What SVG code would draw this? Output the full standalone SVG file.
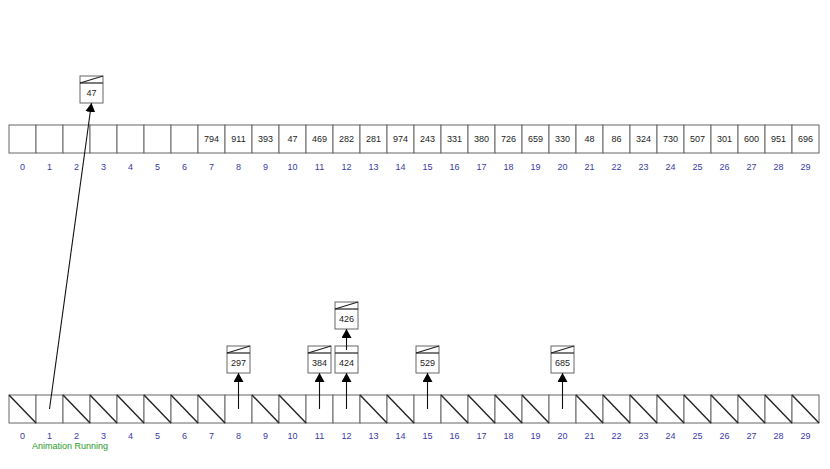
<svg xmlns="http://www.w3.org/2000/svg" width="830" height="469" viewBox="0 0 830 469">
<style>
.cell{fill:#fff;stroke:#666;stroke-width:1}
.diag{stroke:#222;stroke-width:1.4}
.val{font-family:"Liberation Sans",Arial,sans-serif;font-size:9px;fill:#222;text-anchor:middle;dominant-baseline:central}
.idx{font-family:"Liberation Sans",Arial,sans-serif;font-size:9px;fill:#3a3aa8;text-anchor:middle;dominant-baseline:central}
.nbox{fill:#fff;stroke:#666;stroke-width:1}
.nhd{stroke:#222;stroke-width:1.2;fill:none}
.conn{stroke:#111;stroke-width:1.1;fill:none}
.status{font-family:"Liberation Sans",Arial,sans-serif;font-size:9px;fill:#2a9a2a;text-anchor:middle;dominant-baseline:central}
</style>
<defs>
<marker id="ah" markerWidth="9" markerHeight="10" refX="9" refY="5" orient="auto" markerUnits="userSpaceOnUse" viewBox="0 0 9 10">
<path d="M0,0 L9,5 L0,10 z" fill="#000"/>
</marker>
<g id="nodeShape">
<rect class="nbox" x="0" y="0" width="23" height="27"/>
<line class="nhd" x1="0" y1="7" x2="23" y2="7"/>
<line class="nhd" x1="0" y1="7" x2="23" y2="0"/>
</g>
<g id="nodeShapeLinked">
<rect class="nbox" x="0" y="0" width="23" height="27"/>
<line class="nhd" x1="0" y1="7" x2="23" y2="7"/>
</g>
</defs>
<rect width="830" height="469" fill="#fff"/>

<g id="topArray">
<rect class="cell" x="9" y="125" width="27" height="28"/>
<rect class="cell" x="36" y="125" width="27" height="28"/>
<rect class="cell" x="63" y="125" width="27" height="28"/>
<rect class="cell" x="90" y="125" width="27" height="28"/>
<rect class="cell" x="117" y="125" width="27" height="28"/>
<rect class="cell" x="144" y="125" width="27" height="28"/>
<rect class="cell" x="171" y="125" width="27" height="28"/>
<rect class="cell" x="198" y="125" width="27" height="28"/>
<rect class="cell" x="225" y="125" width="27" height="28"/>
<rect class="cell" x="252" y="125" width="27" height="28"/>
<rect class="cell" x="279" y="125" width="27" height="28"/>
<rect class="cell" x="306" y="125" width="27" height="28"/>
<rect class="cell" x="333" y="125" width="27" height="28"/>
<rect class="cell" x="360" y="125" width="27" height="28"/>
<rect class="cell" x="387" y="125" width="27" height="28"/>
<rect class="cell" x="414" y="125" width="27" height="28"/>
<rect class="cell" x="441" y="125" width="27" height="28"/>
<rect class="cell" x="468" y="125" width="27" height="28"/>
<rect class="cell" x="495" y="125" width="27" height="28"/>
<rect class="cell" x="522" y="125" width="27" height="28"/>
<rect class="cell" x="549" y="125" width="27" height="28"/>
<rect class="cell" x="576" y="125" width="27" height="28"/>
<rect class="cell" x="603" y="125" width="27" height="28"/>
<rect class="cell" x="630" y="125" width="27" height="28"/>
<rect class="cell" x="657" y="125" width="27" height="28"/>
<rect class="cell" x="684" y="125" width="27" height="28"/>
<rect class="cell" x="711" y="125" width="27" height="28"/>
<rect class="cell" x="738" y="125" width="27" height="28"/>
<rect class="cell" x="765" y="125" width="27" height="28"/>
<rect class="cell" x="792" y="125" width="27" height="28"/>
<text class="val" x="211.5" y="139">794</text>
<text class="val" x="238.5" y="139">911</text>
<text class="val" x="265.5" y="139">393</text>
<text class="val" x="292.5" y="139">47</text>
<text class="val" x="319.5" y="139">469</text>
<text class="val" x="346.5" y="139">282</text>
<text class="val" x="373.5" y="139">281</text>
<text class="val" x="400.5" y="139">974</text>
<text class="val" x="427.5" y="139">243</text>
<text class="val" x="454.5" y="139">331</text>
<text class="val" x="481.5" y="139">380</text>
<text class="val" x="508.5" y="139">726</text>
<text class="val" x="535.5" y="139">659</text>
<text class="val" x="562.5" y="139">330</text>
<text class="val" x="589.5" y="139">48</text>
<text class="val" x="616.5" y="139">86</text>
<text class="val" x="643.5" y="139">324</text>
<text class="val" x="670.5" y="139">730</text>
<text class="val" x="697.5" y="139">507</text>
<text class="val" x="724.5" y="139">301</text>
<text class="val" x="751.5" y="139">600</text>
<text class="val" x="778.5" y="139">951</text>
<text class="val" x="805.5" y="139">696</text>
</g>

<g id="topIndices">
<text class="idx" x="22.5" y="167">0</text>
<text class="idx" x="49.5" y="167">1</text>
<text class="idx" x="76.5" y="167">2</text>
<text class="idx" x="103.5" y="167">3</text>
<text class="idx" x="130.5" y="167">4</text>
<text class="idx" x="157.5" y="167">5</text>
<text class="idx" x="184.5" y="167">6</text>
<text class="idx" x="211.5" y="167">7</text>
<text class="idx" x="238.5" y="167">8</text>
<text class="idx" x="265.5" y="167">9</text>
<text class="idx" x="292.5" y="167">10</text>
<text class="idx" x="319.5" y="167">11</text>
<text class="idx" x="346.5" y="167">12</text>
<text class="idx" x="373.5" y="167">13</text>
<text class="idx" x="400.5" y="167">14</text>
<text class="idx" x="427.5" y="167">15</text>
<text class="idx" x="454.5" y="167">16</text>
<text class="idx" x="481.5" y="167">17</text>
<text class="idx" x="508.5" y="167">18</text>
<text class="idx" x="535.5" y="167">19</text>
<text class="idx" x="562.5" y="167">20</text>
<text class="idx" x="589.5" y="167">21</text>
<text class="idx" x="616.5" y="167">22</text>
<text class="idx" x="643.5" y="167">23</text>
<text class="idx" x="670.5" y="167">24</text>
<text class="idx" x="697.5" y="167">25</text>
<text class="idx" x="724.5" y="167">26</text>
<text class="idx" x="751.5" y="167">27</text>
<text class="idx" x="778.5" y="167">28</text>
<text class="idx" x="805.5" y="167">29</text>
</g>

<g id="bottomArray">
<rect class="cell" x="9" y="395" width="27" height="28"/>
<rect class="cell" x="36" y="395" width="27" height="28"/>
<rect class="cell" x="63" y="395" width="27" height="28"/>
<rect class="cell" x="90" y="395" width="27" height="28"/>
<rect class="cell" x="117" y="395" width="27" height="28"/>
<rect class="cell" x="144" y="395" width="27" height="28"/>
<rect class="cell" x="171" y="395" width="27" height="28"/>
<rect class="cell" x="198" y="395" width="27" height="28"/>
<rect class="cell" x="225" y="395" width="27" height="28"/>
<rect class="cell" x="252" y="395" width="27" height="28"/>
<rect class="cell" x="279" y="395" width="27" height="28"/>
<rect class="cell" x="306" y="395" width="27" height="28"/>
<rect class="cell" x="333" y="395" width="27" height="28"/>
<rect class="cell" x="360" y="395" width="27" height="28"/>
<rect class="cell" x="387" y="395" width="27" height="28"/>
<rect class="cell" x="414" y="395" width="27" height="28"/>
<rect class="cell" x="441" y="395" width="27" height="28"/>
<rect class="cell" x="468" y="395" width="27" height="28"/>
<rect class="cell" x="495" y="395" width="27" height="28"/>
<rect class="cell" x="522" y="395" width="27" height="28"/>
<rect class="cell" x="549" y="395" width="27" height="28"/>
<rect class="cell" x="576" y="395" width="27" height="28"/>
<rect class="cell" x="603" y="395" width="27" height="28"/>
<rect class="cell" x="630" y="395" width="27" height="28"/>
<rect class="cell" x="657" y="395" width="27" height="28"/>
<rect class="cell" x="684" y="395" width="27" height="28"/>
<rect class="cell" x="711" y="395" width="27" height="28"/>
<rect class="cell" x="738" y="395" width="27" height="28"/>
<rect class="cell" x="765" y="395" width="27" height="28"/>
<rect class="cell" x="792" y="395" width="27" height="28"/>
<line class="diag" x1="9" y1="395" x2="36" y2="423"/>
<line class="diag" x1="63" y1="395" x2="90" y2="423"/>
<line class="diag" x1="90" y1="395" x2="117" y2="423"/>
<line class="diag" x1="117" y1="395" x2="144" y2="423"/>
<line class="diag" x1="144" y1="395" x2="171" y2="423"/>
<line class="diag" x1="171" y1="395" x2="198" y2="423"/>
<line class="diag" x1="198" y1="395" x2="225" y2="423"/>
<line class="diag" x1="252" y1="395" x2="279" y2="423"/>
<line class="diag" x1="279" y1="395" x2="306" y2="423"/>
<line class="diag" x1="360" y1="395" x2="387" y2="423"/>
<line class="diag" x1="387" y1="395" x2="414" y2="423"/>
<line class="diag" x1="441" y1="395" x2="468" y2="423"/>
<line class="diag" x1="468" y1="395" x2="495" y2="423"/>
<line class="diag" x1="495" y1="395" x2="522" y2="423"/>
<line class="diag" x1="522" y1="395" x2="549" y2="423"/>
<line class="diag" x1="576" y1="395" x2="603" y2="423"/>
<line class="diag" x1="603" y1="395" x2="630" y2="423"/>
<line class="diag" x1="630" y1="395" x2="657" y2="423"/>
<line class="diag" x1="657" y1="395" x2="684" y2="423"/>
<line class="diag" x1="684" y1="395" x2="711" y2="423"/>
<line class="diag" x1="711" y1="395" x2="738" y2="423"/>
<line class="diag" x1="738" y1="395" x2="765" y2="423"/>
<line class="diag" x1="765" y1="395" x2="792" y2="423"/>
<line class="diag" x1="792" y1="395" x2="819" y2="423"/>
</g>

<g id="bottomIndices">
<text class="idx" x="22.5" y="436">0</text>
<text class="idx" x="49.5" y="436">1</text>
<text class="idx" x="76.5" y="436">2</text>
<text class="idx" x="103.5" y="436">3</text>
<text class="idx" x="130.5" y="436">4</text>
<text class="idx" x="157.5" y="436">5</text>
<text class="idx" x="184.5" y="436">6</text>
<text class="idx" x="211.5" y="436">7</text>
<text class="idx" x="238.5" y="436">8</text>
<text class="idx" x="265.5" y="436">9</text>
<text class="idx" x="292.5" y="436">10</text>
<text class="idx" x="319.5" y="436">11</text>
<text class="idx" x="346.5" y="436">12</text>
<text class="idx" x="373.5" y="436">13</text>
<text class="idx" x="400.5" y="436">14</text>
<text class="idx" x="427.5" y="436">15</text>
<text class="idx" x="454.5" y="436">16</text>
<text class="idx" x="481.5" y="436">17</text>
<text class="idx" x="508.5" y="436">18</text>
<text class="idx" x="535.5" y="436">19</text>
<text class="idx" x="562.5" y="436">20</text>
<text class="idx" x="589.5" y="436">21</text>
<text class="idx" x="616.5" y="436">22</text>
<text class="idx" x="643.5" y="436">23</text>
<text class="idx" x="670.5" y="436">24</text>
<text class="idx" x="697.5" y="436">25</text>
<text class="idx" x="724.5" y="436">26</text>
<text class="idx" x="751.5" y="436">27</text>
<text class="idx" x="778.5" y="436">28</text>
<text class="idx" x="805.5" y="436">29</text>
</g>

<g id="node47">
<use href="#nodeShape" x="80" y="76"/>
<text class="val" x="91.5" y="93">47</text>
</g>
<g id="node297">
<use href="#nodeShape" x="227" y="346"/>
<text class="val" x="238.5" y="363">297</text>
</g>
<g id="node384">
<use href="#nodeShape" x="308" y="346"/>
<text class="val" x="319.5" y="363">384</text>
</g>
<g id="node424">
<use href="#nodeShapeLinked" x="335" y="346"/>
<text class="val" x="346.5" y="363">424</text>
</g>
<g id="node426">
<use href="#nodeShape" x="335" y="302"/>
<text class="val" x="346.5" y="319">426</text>
</g>
<g id="node529">
<use href="#nodeShape" x="416" y="346"/>
<text class="val" x="427.5" y="363">529</text>
</g>
<g id="node685">
<use href="#nodeShape" x="551" y="346"/>
<text class="val" x="562.5" y="363">685</text>
</g>

<g id="connectors">
<line class="conn" x1="49.5" y1="409" x2="91.5" y2="103" marker-end="url(#ah)"/>
<line class="conn" x1="238.5" y1="409" x2="238.5" y2="373" marker-end="url(#ah)"/>
<line class="conn" x1="319.5" y1="409" x2="319.5" y2="373" marker-end="url(#ah)"/>
<line class="conn" x1="346.5" y1="409" x2="346.5" y2="373" marker-end="url(#ah)"/>
<line class="conn" x1="346.5" y1="350" x2="346.5" y2="329" marker-end="url(#ah)"/>
<line class="conn" x1="427.5" y1="409" x2="427.5" y2="373" marker-end="url(#ah)"/>
<line class="conn" x1="562.5" y1="409" x2="562.5" y2="373" marker-end="url(#ah)"/>
</g>

<text class="status" x="70" y="446">Animation Running</text>
</svg>
